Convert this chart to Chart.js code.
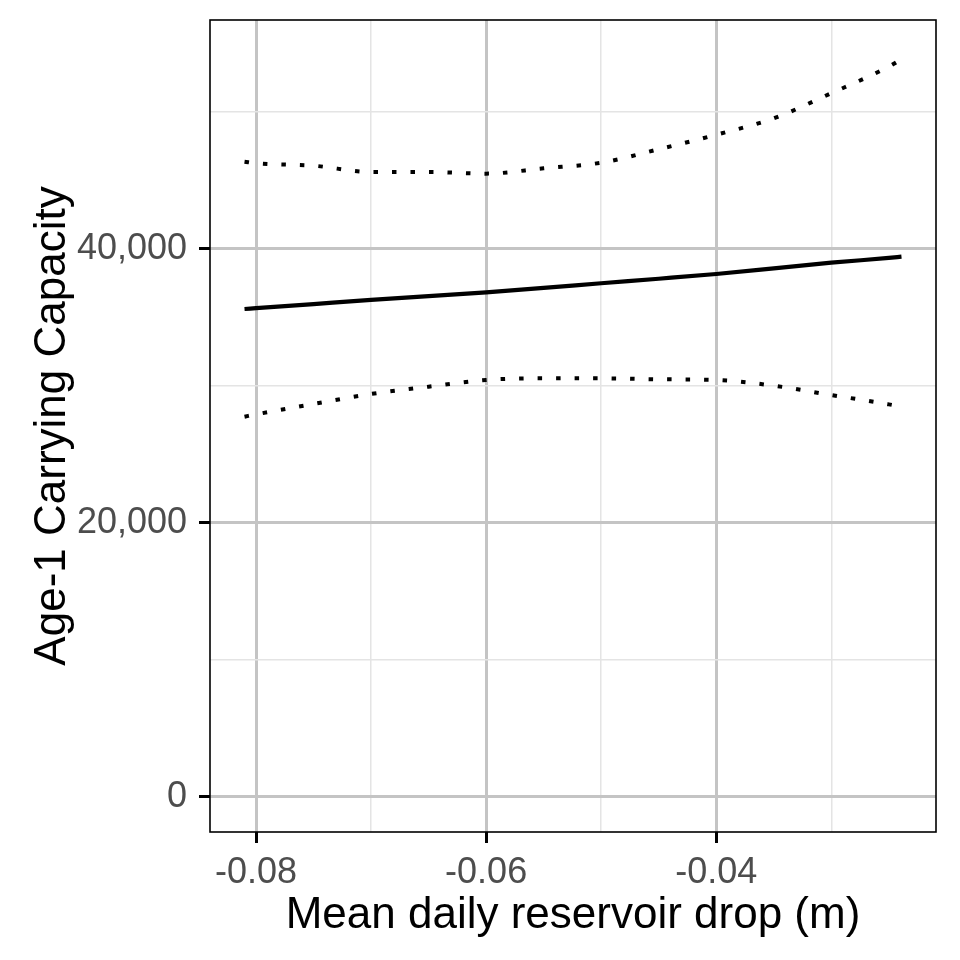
<!DOCTYPE html>
<html lang="en">
<head>
  <meta charset="UTF-8">
  <title>Age-1 Carrying Capacity</title>
  <script src="https://cdn.jsdelivr.net/npm/chart.js"></script>
  <style>
    body { margin: 0; background: #fff; }
    .chart-container { width: 960px; height: 960px; }
  </style>
</head>
<body>
<div class="chart-container">
  <canvas id="capacityChart" width="960" height="960"></canvas>
</div>
<script>
  // values
  const drop = [-0.0810, -0.080, -0.075, -0.070, -0.065, -0.060, -0.055, -0.050, -0.045, -0.040, -0.035, -0.030, -0.025, -0.0239];
  const fitted = [35620, 35680, 35980, 36280, 36560, 36840, 37160, 37500, 37830, 38175, 38580, 39000, 39350, 39440];
  const upperBound = [46370, 46255, 46080, 45620, 45620, 45500, 45890, 46300, 47280, 48340, 49540, 51370, 53310, 53850];
  const lowerBound = [27760, 27930, 28690, 29420, 29950, 30440, 30560, 30560, 30490, 30440, 30020, 29340, 28660, 28490];
  // grid positions (major ones get a label)
  const xTicks = [-0.08, -0.07, -0.06, -0.05, -0.04, -0.03];
  const xTickLabels = ['-0.08', '', '-0.06', '', '-0.04', ''];
  const yTicks = [0, 10000, 20000, 30000, 40000, 50000];
  const yTickLabels = ['0', '', '20,000', '', '40,000', ''];

  const toPoints = ys => drop.map((x, i) => ({ x: x, y: ys[i] }));

  // panel border drawn on top, like ggplot
  const panelBorder = {
    id: 'panelBorder',
    afterDatasetsDraw(chart) {
      const a = chart.chartArea;
      const ctx = chart.ctx;
      ctx.save();
      ctx.strokeStyle = '#000';
      ctx.lineWidth = 1.6;
      ctx.strokeRect(a.left, a.top, a.right - a.left, a.bottom - a.top);
      ctx.restore();
    }
  };

  const isMajor = c => c.index % 2 === 0;

  const ctx = document.getElementById('capacityChart').getContext('2d');
  new Chart(ctx, {
    type: 'line',
    data: {
      datasets: [
        {
          label: 'Upper',
          data: toPoints(upperBound),
          borderColor: '#000',
          borderWidth: 4,
          borderDash: [4.5, 14],
          pointRadius: 0,
          cubicInterpolationMode: 'monotone'
        },
        {
          label: 'Fitted',
          data: toPoints(fitted),
          borderColor: '#000',
          borderWidth: 4.2,
          pointRadius: 0,
          cubicInterpolationMode: 'monotone'
        },
        {
          label: 'Lower',
          data: toPoints(lowerBound),
          borderColor: '#000',
          borderWidth: 4,
          borderDash: [4.5, 14],
          pointRadius: 0,
          cubicInterpolationMode: 'monotone'
        }
      ]
    },
    options: {
      responsive: false,
      animation: false,
      layout: { padding: { top: 20, right: 24, left: 0, bottom: 0 } },
      plugins: { legend: { display: false }, tooltip: { enabled: false } },
      scales: {
        x: {
          type: 'linear',
          min: -0.0840,
          max: -0.0209,
          afterBuildTicks: s => { s.ticks = xTicks.map(v => ({ value: v })); },
          afterFit: s => { s.height = 128; s.paddingLeft = 0; s.paddingRight = 0; },
          border: { display: false },
          grid: {
            color: c => isMajor(c) ? '#c4c4c4' : '#e4e4e4',
            lineWidth: c => isMajor(c) ? 3 : 1.5,
            tickColor: c => isMajor(c) ? '#000' : 'rgba(0,0,0,0)',
            tickWidth: 3,
            tickLength: 11
          },
          ticks: {
            maxRotation: 0,
            autoSkip: false,
            padding: 8,
            color: '#4d4d4d',
            font: { family: 'Liberation Sans', size: 36 },
            callback: (v, i) => xTickLabels[i]
          },
          title: {
            display: true,
            text: 'Mean daily reservoir drop (m)',
            color: '#000',
            font: { family: 'Liberation Sans', size: 44 },
            padding: 18
          }
        },
        y: {
          type: 'linear',
          min: -2555,
          max: 56715,
          afterBuildTicks: s => { s.ticks = yTicks.map(v => ({ value: v })); },
          afterFit: s => { s.width = 210; s.paddingTop = 0; s.paddingBottom = 0; },
          border: { display: false },
          grid: {
            color: c => isMajor(c) ? '#c4c4c4' : '#e4e4e4',
            lineWidth: c => isMajor(c) ? 3 : 1.5,
            tickColor: c => isMajor(c) ? '#000' : 'rgba(0,0,0,0)',
            tickWidth: 3,
            tickLength: 11
          },
          ticks: {
            autoSkip: false,
            padding: 12,
            color: '#4d4d4d',
            font: { family: 'Liberation Sans', size: 36 },
            callback: (v, i) => yTickLabels[i]
          },
          title: {
            display: true,
            text: 'Age-1 Carrying Capacity',
            color: '#000',
            font: { family: 'Liberation Sans', size: 44 },
            padding: 26
          }
        }
      }
    },
    plugins: [panelBorder]
  });
</script>
</body>
</html>
